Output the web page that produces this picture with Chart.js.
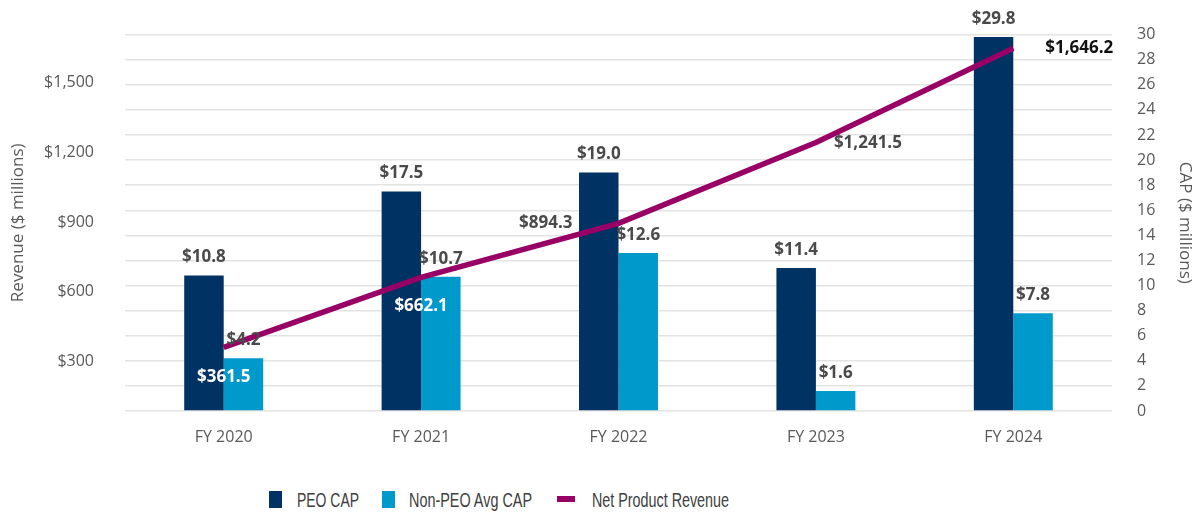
<!DOCTYPE html>
<html>
<head>
<meta charset="utf-8">
<script src="https://cdn.jsdelivr.net/npm/chart.js@4/dist/chart.umd.min.js"></script>
<style>
  html, body { margin: 0; padding: 0; background: #fff; }
  #wrap { position: relative; width: 1200px; height: 460px; }
  #legend { position: relative; width: 1200px; height: 58px; font-family: "Liberation Sans", Arial, sans-serif; font-size: 20px; color: #404040; }
  #legend span { position: absolute; display: block; }
  .txt { top: 28px; line-height: 24px; white-space: nowrap; transform-origin: 0 50%; }
</style>
</head>
<body>
<div id="wrap"><canvas id="c" width="1200" height="460"></canvas></div>
<div id="legend">
  <span style="left:269px;top:31px;width:13px;height:17px;background:#003263"></span>
  <span class="txt" data-w="62" style="left:297px">PEO CAP</span>
  <span style="left:382px;top:31px;width:13px;height:17px;background:#0099cc"></span>
  <span class="txt" data-w="123" style="left:409px">Non-PEO Avg CAP</span>
  <span style="left:557px;top:36px;width:18px;height:6px;background:#990066"></span>
  <span class="txt" data-w="137" style="left:592px">Net Product Revenue</span>
</div>
<script>
// chart values
const years = ['FY 2020', 'FY 2021', 'FY 2022', 'FY 2023', 'FY 2024'];
const peoCap = [10.8, 17.5, 19.0, 11.4, 29.8];
const nonPeoCap = [4.2, 10.7, 12.6, 1.6, 7.8];
const revenue = [361.5, 662.1, 894.3, 1241.5, 1646.2];
const revenueTicks = [300, 600, 900, 1200, 1500];

// where each revenue label sits relative to its point: [dx, dy, align, colour]
const revLabelStyle = [
  [0, 30, 'center', '#ffffff'],
  [0, 29, 'center', '#ffffff'],
  [-46, 0, 'right', '#4a4a4a'],
  [18, 1, 'left', '#4a4a4a'],
  [32, 0, 'left', '#111111']
];

// legend text in the original is a condensed face; squeeze ours to the same width
document.querySelectorAll('#legend .txt').forEach(el => {
  const w = el.getBoundingClientRect().width;
  el.style.transform = 'scaleX(' + (+el.dataset.w / w) + ')';
});

const money = v => '$' + v.toLocaleString('en-US', { minimumFractionDigits: 1, maximumFractionDigits: 1 });

const labelPlugin = {
  id: 'valueLabels',
  afterDatasetsDraw(chart) {
    const ctx = chart.ctx;
    ctx.save();
    ctx.font = 'bold 17px "Open Sans", sans-serif';
    ctx.textBaseline = 'middle';
    [0, 1].forEach(di => {
      const meta = chart.getDatasetMeta(di);
      meta.data.forEach((bar, i) => {
        ctx.fillStyle = '#4a4a4a';
        ctx.textAlign = 'center';
        ctx.fillText(money(chart.data.datasets[di].data[i]), bar.x, bar.y - 18);
      });
    });
    const lineMeta = chart.getDatasetMeta(2);
    lineMeta.data.forEach((pt, i) => {
      const s = revLabelStyle[i];
      ctx.fillStyle = s[3];
      ctx.textAlign = s[2];
      ctx.fillText(money(revenue[i]), pt.x + s[0], pt.y + s[1]);
    });
    ctx.restore();
  }
};

const tickFont = { family: '"Open Sans", sans-serif', size: 16 };
const titleFont = { family: '"Open Sans", sans-serif', size: 17 };

new Chart(document.getElementById('c'), {
  data: {
    labels: years,
    datasets: [
      { type: 'bar', label: 'PEO CAP', data: peoCap, yAxisID: 'yCap', backgroundColor: '#003263', categoryPercentage: 0.4, barPercentage: 1.0, order: 1 },
      { type: 'bar', label: 'Non-PEO Avg CAP', data: nonPeoCap, yAxisID: 'yCap', backgroundColor: '#0099cc', categoryPercentage: 0.4, barPercentage: 1.0, order: 1 },
      { type: 'line', label: 'Net Product Revenue', data: revenue, yAxisID: 'yRev', borderColor: '#990066', borderWidth: 5.5, pointRadius: 0, tension: 0, order: 0 }
    ]
  },
  options: {
    responsive: false,
    animation: false,
    layout: { padding: { top: 33, left: 8, right: 5, bottom: 0 } },
    plugins: { legend: { display: false }, tooltip: { enabled: false } },
    scales: {
      x: {
        grid: { display: false },
        border: { display: false },
        ticks: { color: '#595959', font: tickFont, padding: 9 },
        afterFit(s) { s.height = 49; }
      },
      yRev: {
        position: 'left',
        min: 88, max: 1705,
        grid: { display: false },
        border: { display: false },
        afterBuildTicks(s) { s.ticks = revenueTicks.map(v => ({ value: v })); },
        ticks: { color: '#595959', font: tickFont, padding: 23, callback: v => '$' + v.toLocaleString('en-US') },
        title: { display: true, text: 'Revenue ($ millions)', color: '#595959', font: titleFont, padding: 0 },
        afterFit(s) { s.width = 117; }
      },
      yCap: {
        position: 'right',
        min: 0, max: 30,
        grid: { color: '#e3e3e3', lineWidth: 1.5, drawTicks: false },
        border: { display: false },
        ticks: { stepSize: 2, color: '#595959', font: tickFont, padding: 25 },
        title: { display: true, text: 'CAP ($ millions)', color: '#595959', font: titleFont, padding: 0 },
        afterFit(s) { s.width = 83; }
      }
    }
  },
  plugins: [labelPlugin]
});
</script>
</body>
</html>
